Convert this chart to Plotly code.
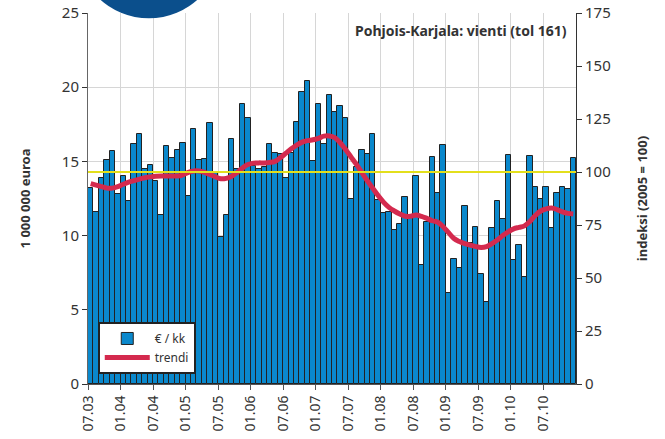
import plotly.graph_objects as go

# months Jul 2003 .. Dec 2010
months = [f"{m:02d}.{y:02d}" for y in range(3, 11) for m in range(1, 13)][6:]
tick_labels = ["07.03", "01.04", "07.04", "01.05", "07.05", "01.06", "07.06", "01.07",
               "07.07", "01.08", "07.08", "01.09", "07.09", "01.10", "07.10"]

exports = [13.2, 11.6, 13.9, 15.1, 15.7, 12.8, 14.0, 12.3, 16.2, 16.85,
           14.5, 14.75, 13.7, 11.4, 16.05, 15.2, 15.8, 16.25, 12.7, 17.2,
           15.1, 15.15, 17.6, 14.2, 9.9, 11.4, 16.5, 14.5, 18.85, 17.95,
           14.7, 14.5, 14.6, 16.15, 15.55, 15.5, 13.85, 15.55, 17.65, 19.65,
           20.45, 15.0, 18.9, 16.15, 19.45, 18.35, 18.7, 17.9, 12.5, 14.6,
           15.8, 15.5, 16.85, 12.4, 11.5, 11.6, 10.4, 10.75, 12.6, 11.35,
           14.0, 8.05, 10.95, 15.3, 12.85, 16.1, 6.1, 8.45, 7.8, 12.0,
           9.5, 10.55, 7.4, 5.55, 10.5, 12.35, 11.1, 15.4, 8.35, 9.4,
           7.2, 15.35, 13.25, 12.45, 13.3, 10.5, 12.85, 13.25, 13.15, 15.2]

trend_index = [94.5, 93.8, 93.1, 92.4, 92.4, 93.1, 94.2, 95.2, 95.9, 96.6,
               97.3, 97.7, 98.0, 98.1, 98.1, 98.1, 98.1, 98.7, 99.8, 100.5,
               100.5, 99.8, 98.8, 97.7, 96.8, 97.0, 98.0, 99.8, 101.9, 103.5,
               104.2, 104.3, 104.3, 104.5, 105.0, 106.8, 108.9, 111.0, 112.7, 114.1,
               114.8, 115.2, 115.9, 116.9, 117.0, 116.2, 113.8, 110.6, 107.1, 103.6,
               99.8, 95.9, 92.4, 88.9, 85.8, 83.3, 81.6, 80.2, 79.1, 79.1,
               79.7, 79.1, 78.1, 77.0, 76.3, 74.2, 71.4, 68.6, 67.2, 66.2,
               65.5, 64.8, 64.4, 64.8, 66.2, 67.9, 70.0, 71.8, 73.2, 73.9,
               74.6, 76.7, 79.5, 81.6, 82.6, 83.0, 82.3, 81.2, 80.5, 80.2]

base_index = 100

x = [i + 0.5 for i in range(len(months))]
tickvals = [months.index(t) for t in tick_labels]

TXT = "#333333"
FONT = "Noto Sans"

fig = go.Figure()
fig.add_trace(go.Bar(
    x=x, y=exports, width=1, name="€ / kk", customdata=months,
    marker=dict(color="#0a88cc", line=dict(color="#222222", width=1)),
))
fig.add_trace(go.Scatter(
    x=x, y=trend_index, yaxis="y2", mode="lines", name="trendi",
    line=dict(color="#d42a4e", width=5, shape="spline"),
))

fig.update_layout(
    width=665, height=439,
    margin=dict(l=88, r=89, t=13, b=55, autoexpand=False),
    paper_bgcolor="white", plot_bgcolor="white",
    font=dict(family=FONT, color=TXT, size=14),
    bargap=0,
    showlegend=True,
    legend=dict(x=0.02, y=0.027, xanchor="left", yanchor="bottom",
                bgcolor="white", bordercolor="#222222", borderwidth=2,
                font=dict(size=12, color=TXT), itemwidth=45,
                tracegroupgap=2),
    xaxis=dict(range=[0, 90], tickvals=tickvals, ticktext=tick_labels,
               tickangle=-90, ticks="outside", ticklen=5, tickcolor="#555",
               showgrid=True, gridcolor="#d6d6d6", gridwidth=1, automargin=False,
               showline=True, linecolor="#555", zeroline=False,
               tickfont=dict(size=14, color=TXT)),
    yaxis=dict(range=[0, 25], dtick=5, ticks="outside", ticklen=5, tickcolor="#333",
               showgrid=True, gridcolor="#d6d6d6", showline=True, linecolor="#666",
               zeroline=False, tickfont=dict(size=15, color=TXT), automargin=False,
               title=dict(text="<b>1 000 000 euroa</b>", font=dict(size=13, color=TXT),
                          standoff=28)),
    yaxis2=dict(range=[0, 175], dtick=25, overlaying="y", side="right",
                ticks="outside", ticklen=5, tickcolor="#333", automargin=False,
                showgrid=False, showline=True, linecolor="#333", zeroline=False,
                tickfont=dict(size=15, color=TXT),
                title=dict(text="<b>indeksi (2005 = 100)</b>", font=dict(size=13, color=TXT),
                           standoff=28)),
    shapes=[
        dict(type="line", xref="paper", x0=0, x1=1, yref="y2", y0=base_index, y1=base_index,
             line=dict(color="#e3df1c", width=2), layer="above"),
        dict(type="circle", xref="paper", yref="paper", x0=-0.0244, x1=0.274,
             y0=0.9857, y1=1.379, fillcolor="#0b4f8c", line=dict(width=0), layer="above"),
    ],
    annotations=[
        dict(text="<b>Pohjois-Karjala: vienti (tol 161)</b>", xref="paper", yref="paper",
             x=0.985, y=0.985, xanchor="right", yanchor="top", showarrow=False,
             font=dict(size=14, color=TXT)),
    ],
)

fig.write_html("out.html", config={"displayModeBar": False},
               post_script="document.body.style.margin='0';document.body.style.padding='0';")
